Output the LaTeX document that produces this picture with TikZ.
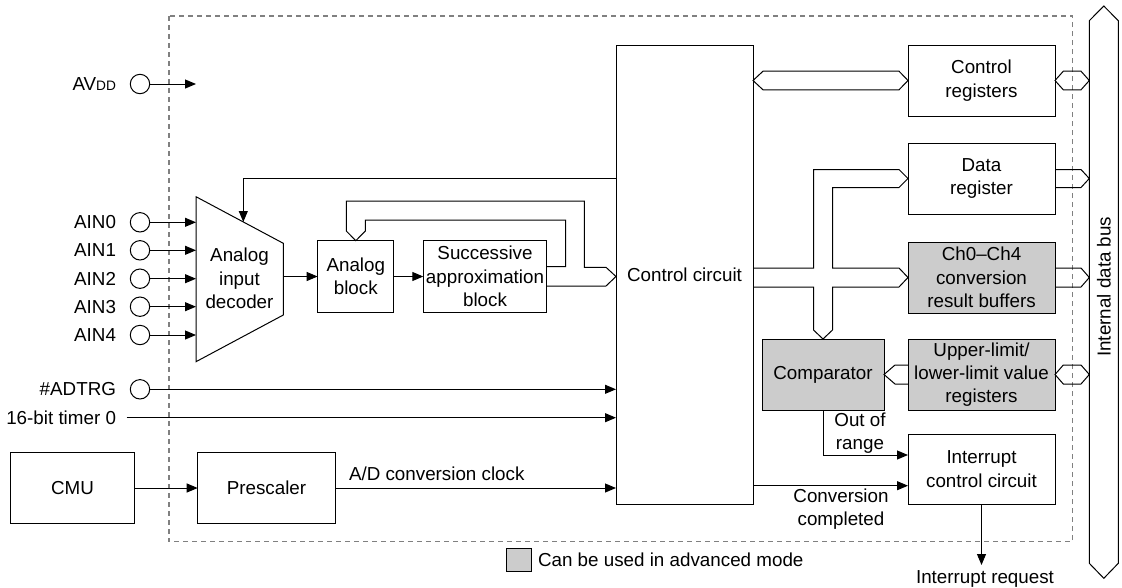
\documentclass[tikz,border=0pt]{standalone}
\usepackage{fontspec}
\setmainfont{Liberation Sans}
\usetikzlibrary{arrows.meta,calc}
\definecolor{advgray}{HTML}{CCCCCC}
\definecolor{dashgray}{HTML}{808080}
\begin{document}
\begin{tikzpicture}[x=1pt,y=-1pt,
  every node/.style={font=\fontsize{18.8}{23.3}\selectfont, inner sep=1pt, outer sep=0pt},
  box/.style={draw, line width=1pt, align=center, inner sep=2pt},
  term/.style={draw, circle, line width=1pt, minimum size=19.4pt, inner sep=0pt},
  arr/.style={line width=1pt, -{Triangle[length=11pt,width=9pt]}},
  wire/.style={line width=1pt, line join=miter},
  busline/.style={line width=1pt, line join=miter},
  dashbox/.style={draw=dashgray, line width=1.2pt, dash pattern=on 5pt off 4pt}]
\useasboundingbox (0,0) rectangle (1122,587);

% dashed boundary
\draw[dashbox] (169,16) rectangle (1072.7,541.7);

% internal data bus
\draw[busline] (1103.8,6) -- (1118.3,20.7) -- (1118.3,563.3) -- (1103.8,578.3) -- (1089.3,563.3) -- (1089.3,20.7) -- cycle;
\coordinate (busL) at (1089.3,300);
\node[rotate=90] (buslbl) at (1103.8,286.7) {Internal data bus};

% blocks
\node[box, minimum width=137pt, minimum height=459pt] (cc) at (684.5,274.5) {Control circuit};
\node[box, minimum width=147pt, minimum height=71pt] (creg) at (981.5,80.5) {Control\\registers};
\node[box, minimum width=147pt, minimum height=71pt] (dreg) at (981.5,178.5) {Data\\register};
\node[box, fill=advgray, minimum width=147pt, minimum height=71pt] (chb) at (981.5,277.5) {Ch0–Ch4\\conversion\\result buffers};
\node[box, fill=advgray, minimum width=147pt, minimum height=71pt] (ulr) at (981.5,374.5) {Upper-limit/\\lower-limit value\\registers};
\node[box, fill=advgray, minimum width=122pt, minimum height=71pt] (comp) at (823,374.5) {Comparator};
\node[box, minimum width=147pt, minimum height=70pt] (intc) at (981.5,469) {Interrupt\\control circuit};
\node[box, minimum width=76.3pt, minimum height=71.6pt] (ablk) at (355.8,276.5) {Analog\\block};
\node[box, minimum width=123.4pt, minimum height=71.6pt] (sa) at (485,276.5) {Successive\\approximation\\block};
\node[box, minimum width=123.7pt, minimum height=70.6pt] (cmu) at (72.5,488) {CMU};
\node[box, minimum width=137.6pt, minimum height=70.6pt] (pre) at (266.5,488) {Prescaler};

% analog input decoder (trapezoid)
\draw[wire] (196,196.7) coordinate (muxTL) -- (283.3,243.3) coordinate (muxTR)
  -- (283.3,315) coordinate (muxBR) -- (196,361.7) coordinate (muxBL) -- cycle;
\node[align=center] (mux) at (239.5,278.3) {Analog\\input\\decoder};

% AVDD
\node[term] (avdd) at (140,84) {};
\node[anchor=east] (avddlbl) at (117,84) {AV{\fontsize{13.7}{14}\selectfont DD}};
\coordinate (avddend) at (196,84);
\draw[arr] (avdd.east) -- (avddend);

% analog inputs
\foreach \i/\y in {0/222.3,1/250.3,2/278.7,3/306.7,4/335} {
  \node[term] (ain\i) at (140,\y) {};
  \node[anchor=east] (ainl\i) at (117,\y) {AIN\i};
  \draw[arr] (ain\i.east) -- (muxTL |- ain\i);
}

% trigger inputs
\node[term] (adtrg) at (140,389.3) {};
\node[anchor=east] (adtrglbl) at (117,389.3) {\#ADTRG};
\draw[arr] (adtrg.east) -- (cc.west |- adtrg);
\node[anchor=east] (tmr) at (117,417.7) {16-bit timer 0};
\draw[arr] ($(tmr.east)+(9.5,0)$) -- (cc.west |- tmr.east);

% clock
\draw[arr] (cmu.east) -- (pre.west);
\draw[arr] (pre.east) -- (cc.west |- pre.east);
\node[anchor=west] (clklbl) at (348,474) {A/D conversion clock};

% feedback to decoder
\coordinate (fb) at (243.3,178.3);
\draw[arr] (cc.west |- fb) -- (fb) -- (243.3,222);

% analog chain
\draw[arr] (muxTR |- ablk.west) -- (ablk.west);
\draw[arr] (ablk.east) -- (sa.west);

% SA bus (feedback to analog block + to control circuit)
\draw[busline] ($(sa.east)+(0,-9.8)$) -- (565.7,266.7) -- (565.7,220) -- (365.3,220) -- (365.3,231)
  -- (ablk.north) -- (346.3,231) -- (346.3,201) -- (584.3,201) -- (584.3,267.3) -- (606,267.3)
  -- (cc.west |- sa.east) -- (606,286) -- ($(sa.east)+(0,9.5)$);

% control circuit <-> control registers
\draw[busline] (cc.east |- creg.west) -- (763,71.2) -- (899,71.2) -- (creg.west) -- (899,89.8) -- (763,89.8) -- cycle;
% control registers <-> bus
\draw[busline] (creg.east) -- (1063.3,71.2) -- (1081,71.2) -- (busL |- creg.east) -- (1081,89.8) -- (1063.3,89.8) -- cycle;
% data register -> bus
\draw[busline] ($(dreg.east)+(0,-9)$) -- (1081,169.5) -- (busL |- dreg.east) -- (1081,187.5) -- ($(dreg.east)+(0,9)$);
% result buffers -> bus
\draw[busline] ($(chb.east)+(0,-9.5)$) -- (1081,268) -- (busL |- chb.east) -- (1081,287) -- ($(chb.east)+(0,9.5)$);
% limit registers <-> bus
\draw[busline] (ulr.east) -- (1063.3,365) -- (1081,365) -- (busL |- ulr.east) -- (1081,384) -- (1063.3,384) -- cycle;
% limit registers -> comparator
\draw[busline] ($(ulr.west)+(0,-9.5)$) -- (895,365) -- (comp.east) -- (895,384) -- ($(ulr.west)+(0,9.5)$);

% T-shaped bus from control circuit
\draw[busline] (cc.east |- 0,268) -- (813.5,268) -- (813.5,169.5) -- (899,169.5) -- (dreg.west)
  -- (899,187.5) -- (832.5,187.5) -- (832.5,268) -- (899,268) -- (chb.west) -- (899,287)
  -- (832.5,287) -- (832.5,330) -- (comp.north) -- (813.5,330) -- (813.5,287) -- (cc.east |- 0,287);

% interrupt signals
\draw[arr] (comp.south) |- (intc.west |- 0,455);
\node[align=center] (oorlbl) at (860,433) {Out of\\range};
\draw[arr] (cc.east |- 0,485.7) -- (intc.west |- 0,485.7);
\node[align=center] (cclbl) at (841,509) {Conversion\\completed};
\coordinate (irq) at (981.5,565);
\draw[arr] (intc.south) -- (irq);
\node[anchor=base] (irqlbl) at (985,583.3) {Interrupt request};

% legend
\node[draw, fill=advgray, line width=1pt, minimum width=24.6pt, minimum height=23.4pt, inner sep=0pt] (leg) at (519,560) {};
\node[anchor=west] (leglbl) at (537,559.5) {Can be used in advanced mode};
\end{tikzpicture}
\end{document}
